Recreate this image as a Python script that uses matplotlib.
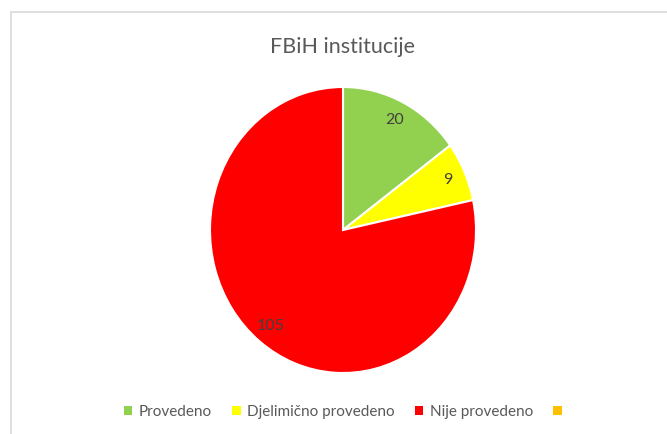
import matplotlib.pyplot as plt
from matplotlib.patches import Patch, Rectangle

# data
labels = ['Provedeno', 'Djelimično provedeno', 'Nije provedeno', '']
values = [20, 9, 105, 0]
colors = ['#92D050', '#FFFF00', '#FF0000', '#FFC000']

plt.rcParams['font.family'] = ['Lato', 'DejaVu Sans']

W, H = 667, 434
fig = plt.figure(figsize=(W / 100, H / 100), dpi=100)

# chart border (cut off on right and bottom)
fig.patches.append(Rectangle((10.5 / W, -0.1), 1.2, (H - 12.5) / H + 0.1,
                             transform=fig.transFigure, fill=False,
                             edgecolor='#D9D9D9', linewidth=1.2))

# pie axes (slightly stretched vertically like the original)
cx, cy, rx, ry = 343, 230, 133, 143
ax = fig.add_axes([(cx - rx) / W, (H - cy - ry) / H, 2 * rx / W, 2 * ry / H])

shown = [(v, c) for v, c in zip(values, colors) if v > 0]
total = sum(values)
ax.pie([v for v, c in shown], colors=[c for v, c in shown], startangle=90,
       counterclock=False, radius=1,
       wedgeprops=dict(edgecolor='white', linewidth=1.5),
       autopct=lambda p: '{:d}'.format(int(round(p * total / 100))),
       pctdistance=0.86,
       textprops=dict(color='#404040', fontsize=11.5))
ax.set_aspect('auto')
ax.set_xlim(-1, 1)
ax.set_ylim(-1, 1)
ax.axis('off')

fig.text(cx / W, 1 - 47 / H, 'FBiH institucije', ha='center', va='center',
         fontsize=15.5, color='#595959')

handles = [Patch(facecolor=c, edgecolor='none') for c in colors]
fig.legend(handles, labels, loc='center', bbox_to_anchor=(346 / W, 1 - 412 / H),
           ncol=4, frameon=False, fontsize=11, labelcolor='#595959',
           handlelength=0.55, handleheight=0.55, handletextpad=0.4,
           columnspacing=1.35)

fig.savefig('out.png', dpi=100)
